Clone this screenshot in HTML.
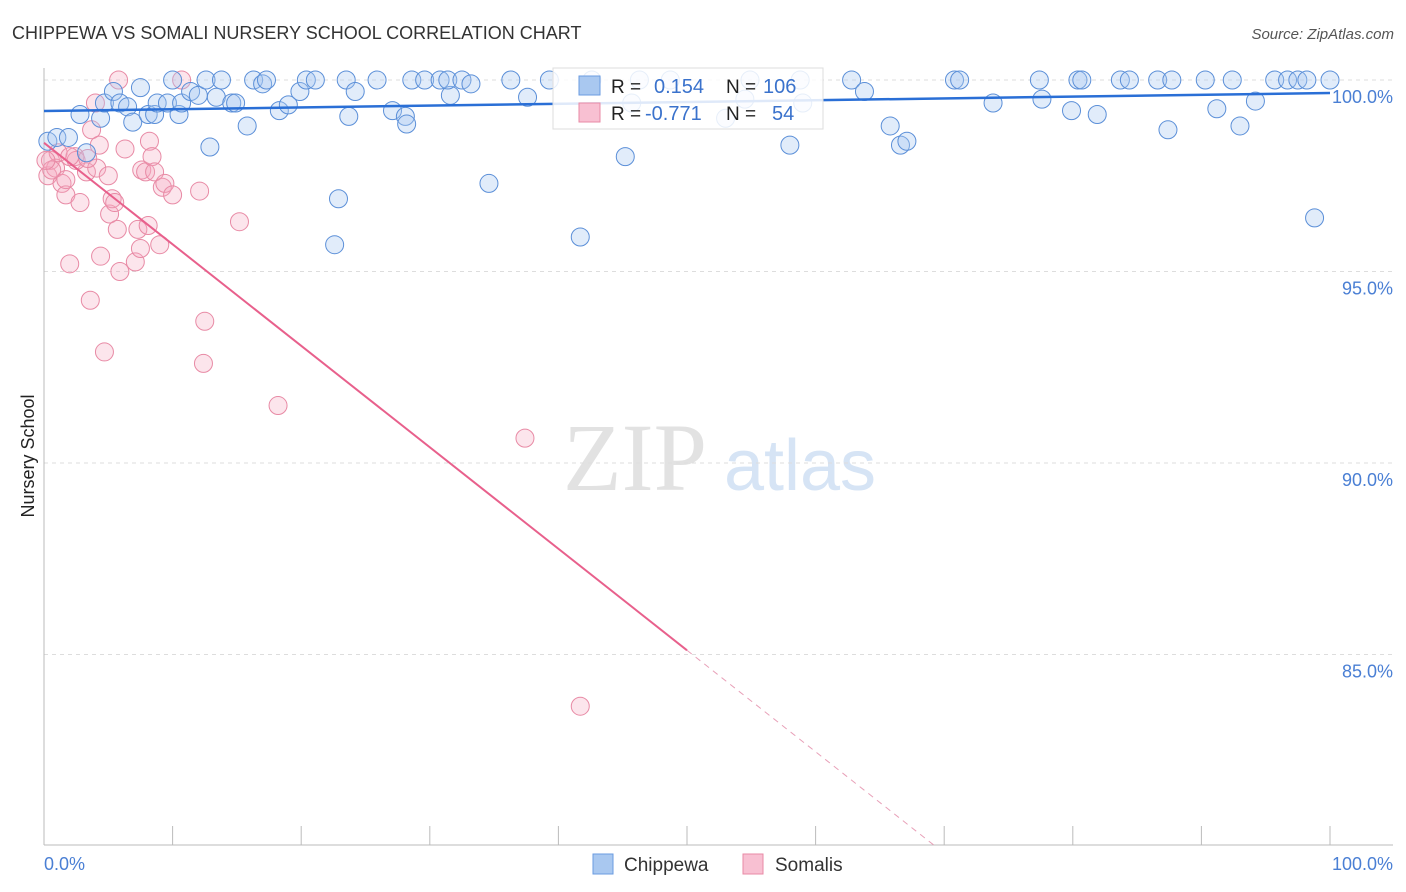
<!DOCTYPE html>
<html><head><meta charset="utf-8"><style>
body{margin:0;background:#fff;font-family:"Liberation Sans",sans-serif;}
svg{display:block}
</style></head><body>
<svg width="1406" height="892" id="chart">
<text x="12" y="39" font-size="18" fill="#333">CHIPPEWA VS SOMALI NURSERY SCHOOL CORRELATION CHART</text>
<text x="1394" y="39" font-size="15" fill="#555" font-style="italic" text-anchor="end">Source: ZipAtlas.com</text>
<g>
<text x="635" y="490" font-size="96" fill="#e2e2e2" font-family="Liberation Serif,serif" text-anchor="middle">ZIP</text>
<text x="800" y="490" font-size="72" fill="#d6e4f5" text-anchor="middle">atlas</text>
</g>
<g id="grid"></g>
<g id="axes"></g>
<g id="marks"></g>
<g id="fits"></g>
<text transform="translate(34,456) rotate(-90)" font-size="18" fill="#222" text-anchor="middle">Nursery School</text>
<g>
<rect x="553" y="68" width="270" height="61" fill="#fff" fill-opacity="0.85" stroke="#ddd"/>
<rect x="579" y="76" width="21" height="19" fill="#a9c8f0" stroke="#6a9be0"/>
<rect x="579" y="103" width="21" height="19" fill="#f8c0d2" stroke="#e88aa5"/>
<text x="611" y="93" font-size="19" fill="#222">R = </text>
<text x="654" y="93" font-size="20" fill="#3a72cc">0.154</text>
<text x="726" y="93" font-size="19" fill="#222">N = </text>
<text x="763" y="93" font-size="20" fill="#3a72cc">106</text>
<text x="611" y="120" font-size="19" fill="#222">R = </text>
<text x="645" y="120" font-size="20" fill="#3a72cc">-0.771</text>
<text x="726" y="120" font-size="19" fill="#222">N = </text>
<text x="772" y="120" font-size="20" fill="#3a72cc">54</text>
</g>
<g>
<rect x="593" y="854" width="20" height="20" fill="#a9c8f0" stroke="#6a9be0"/>
<text x="624" y="871" font-size="19" fill="#333">Chippewa</text>
<rect x="743" y="854" width="20" height="20" fill="#f8c0d2" stroke="#e88aa5"/>
<text x="775" y="871" font-size="19" fill="#333">Somalis</text>
</g>
</svg>
<script>
const yTicks=[100,95,90,85];
const yTickLabels=["100.0%","95.0%","90.0%","85.0%"];
const xTickLabels=["0.0%","100.0%"];
const chippewaX=[0.3,1.0,1.9,2.8,3.3,4.4,4.7,5.4,5.9,6.5,6.9,7.5,8.1,8.6,8.8,9.6,10.0,10.5,10.7,11.4,12.0,12.6,12.9,13.4,13.8,14.6,14.9,15.8,16.3,17.0,17.3,18.3,19.0,19.9,20.4,21.1,22.6,22.9,23.5,23.7,24.2,25.9,27.1,28.1,28.2,28.6,29.6,30.8,31.6,31.4,32.5,33.2,34.6,36.3,37.6,39.3,41.7,42.6,45.2,45.7,46.3,48.7,53.0,54.5,54.9,58.0,58.8,59.0,62.8,63.8,65.8,66.6,67.1,70.8,71.2,73.8,77.4,77.6,79.9,80.4,80.7,81.9,83.7,84.4,86.6,87.4,87.7,90.3,91.2,92.4,93.0,94.2,95.7,96.7,97.5,98.2,98.8,100];
const chippewaY=[98.4,98.5,98.5,99.1,98.1,99.0,99.4,99.7,99.4,99.3,98.9,99.8,99.1,99.1,99.4,99.4,100,99.1,99.4,99.7,99.6,100,98.25,99.55,100,99.4,99.4,98.8,100,99.9,100,99.2,99.35,99.7,100,100,95.7,96.9,100,99.05,99.7,100,99.2,99.05,98.85,100,100,100,99.6,100,100,99.9,97.3,100,99.55,100,95.9,100,98.0,99.4,100,100,99.0,99.5,100,98.3,100,99.4,100,99.7,98.8,98.3,98.4,100,100,99.4,100,99.5,99.2,100,100,99.1,100,100,100,98.7,100,100,99.25,100,98.8,99.45,100,100,100,100,96.4,100];
const somaliX=[0.3,0.5,0.9,1.1,1.4,1.7,2.0,2.4,2.8,3.3,3.6,3.7,4.0,4.1,4.3,4.4,4.7,5.0,5.1,5.3,5.5,5.7,5.9,6.3,7.1,7.3,7.5,7.6,7.9,8.1,8.2,8.4,8.6,9.0,9.2,9.4,10.0,10.7,12.1,12.4,12.5,15.2,18.2,37.4,41.7,5.8,2.5,1.7,0.6,2.0,3.4,0.15];
const somaliY=[97.5,97.9,97.7,98.1,97.3,97.0,95.2,98.0,96.8,97.6,94.25,98.7,99.4,97.7,98.3,95.4,92.9,97.5,96.5,96.9,96.8,96.1,95.0,98.2,95.25,96.1,95.6,97.65,97.6,96.2,98.4,98.0,97.6,95.7,97.2,97.3,97.0,100,97.1,92.6,93.7,96.3,91.5,90.65,83.65,100,97.9,97.4,97.65,98.0,97.95,97.9];
const chippewaFit=[99.19,99.66];
const somaliFit=[98.36,-0.265];
const NS='http://www.w3.org/2000/svg';
const sx=v=>44+v*12.86;
const sy=v=>80+(100-v)*38.3;
function mk(tag,attrs,parent){const e=document.createElementNS(NS,tag);for(const k in attrs)e.setAttribute(k,attrs[k]);parent.appendChild(e);return e;}
const grid=document.getElementById('grid'),axes=document.getElementById('axes'),marks=document.getElementById('marks'),fits=document.getElementById('fits');
yTicks.forEach((t,i)=>{
 const l=mk('line',{x1:44,x2:1393,y1:sy(t),y2:sy(t),stroke:'#ddd','stroke-dasharray':'4,4'},grid);
 
 
 const tx=mk('text',{x:1393,y:sy(t)+23,'font-size':18,fill:'#4a7fd4','text-anchor':'end'},axes);
 tx.textContent=yTickLabels[i];
 
 
});
const al=mk('line',{x1:44,x2:44,y1:68,y2:845,stroke:'#bbb'},axes);


const bl=mk('line',{x1:44,x2:1393,y1:845,y2:845,stroke:'#bbb'},axes);


for(let i=0;i<=10;i++){
 const tk=mk('line',{x1:sx(i*10),x2:sx(i*10),y1:826,y2:845,stroke:'#bbb'},axes);
 
 
}
[[0,'start',44],[100,'end',1393]].forEach((d,i)=>{
 const t=mk('text',{x:d[2],y:870,'font-size':18,fill:'#4a7fd4','text-anchor':d[1]},axes);
 t.textContent=xTickLabels[i];
 
 
});
somaliX.forEach((x,i)=>{
 const c=mk('circle',{cx:sx(x),cy:sy(somaliY[i]),r:9,fill:'#f5a9c0','fill-opacity':0.3,stroke:'#e88aa5','stroke-width':1},marks);
 
 
});
chippewaX.forEach((x,i)=>{
 const c=mk('circle',{cx:sx(x),cy:sy(chippewaY[i]),r:9,fill:'#a9c8f0','fill-opacity':0.35,stroke:'#5b8fd8','stroke-width':1},marks);
 
 
});
const bf=mk('line',{x1:sx(0),y1:sy(chippewaFit[0]),x2:sx(100),y2:sy(chippewaFit[1]),stroke:'#2a6fd6','stroke-width':2.5},fits);


const pf=v=>somaliFit[0]+somaliFit[1]*v;
const ps=mk('line',{x1:sx(0),y1:sy(pf(0)),x2:sx(50),y2:sy(pf(50)),stroke:'#e8608c','stroke-width':2},fits);


const xEnd=(somaliFit[0]-80)/-somaliFit[1];
const pd=mk('line',{x1:sx(50),y1:sy(pf(50)),x2:sx(xEnd),y2:sy(pf(xEnd)),stroke:'#e8a0b8','stroke-width':1,'stroke-dasharray':'6,5'},fits);


</script>
</body></html>
